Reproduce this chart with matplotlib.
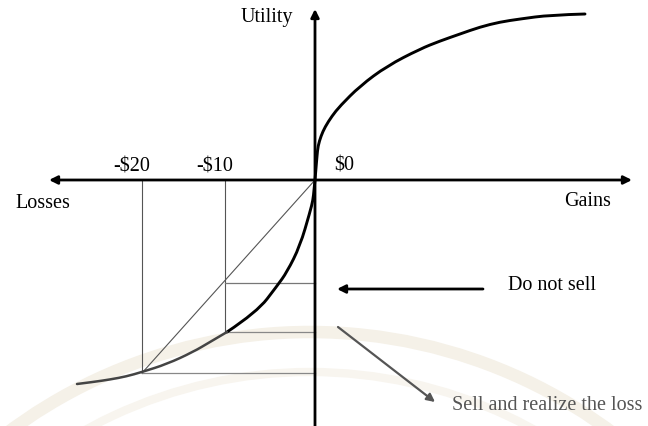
import matplotlib
matplotlib.use("Agg")
import matplotlib.pyplot as plt
from matplotlib.path import Path
from matplotlib.patches import PathPatch, Arc

plt.rcParams['font.family'] = ['Liberation Serif', 'DejaVu Serif']

# Curva de valor (unidades del dibujo, origen en $0)
gain_x = [0, 1, 2, 3, 6, 10, 17, 25, 45, 72, 105, 125, 145, 165, 185, 205, 235, 270]
gain_y = [0, 12, 24, 34, 44, 53, 64, 74, 94, 114, 131, 139, 146, 153, 158, 161, 165, 166]
# tramo de pérdidas hasta -$10 (negro) y más allá (gris)
loss_x = [0, -1, -2, -5, -15, -28, -38, -58, -88]
loss_y = [0, -10, -20, -32, -66, -92, -106, -132, -152]
loss2_x = [-88, -105, -122, -148, -173, -189, -205, -222, -238]
loss2_y = [-152, -162, -172, -184, -192, -196.5, -199.5, -202, -204]

# Posiciones de las pérdidas en el eje
loss_pos = [-173, -90]
loss_labels = ["-$20", "-$10"]
loss_util = [-193, -152]      # utilidad sobre la curva
no_sell_util = -103           # utilidad media (no vender)


def smooth_path(xs, ys):
    # B-spline cuadrática: los puntos leídos hacen de controles
    pts = list(zip(xs, ys))
    if len(pts) == 2:
        return Path(pts)
    verts = [pts[0]]
    codes = [Path.MOVETO]
    for i in range(1, len(pts) - 1):
        nxt = pts[i + 1] if i == len(pts) - 2 else (
            (pts[i][0] + pts[i + 1][0]) / 2, (pts[i][1] + pts[i + 1][1]) / 2)
        verts += [pts[i], nxt]
        codes += [Path.CURVE3, Path.CURVE3]
    return Path(verts, codes)


fig = plt.figure(figsize=(6.48, 4.27), dpi=100)
ax = fig.add_axes([0, 0, 1, 1])
ax.set_xlim(-315, 333)
ax.set_ylim(-246, 181)
ax.axis("off")

fs = 14.5
thin = dict(color="#555555", lw=0.8)

# marca de agua tenue
ax.add_patch(Arc((-5, -657), 1010, 1010, theta1=40, theta2=140,
                 color="#f5f1e8", lw=9, zorder=0))
ax.add_patch(Arc((-5, -657), 930, 930, theta1=40, theta2=140,
                 color="#f8f5ef", lw=6, zorder=0))

# ejes
ax.annotate("", xy=(-266, 0), xytext=(317, 0),
            arrowprops=dict(arrowstyle="<|-|>", color="black", lw=2,
                            mutation_scale=12, shrinkA=0, shrinkB=0))
ax.annotate("", xy=(0, 171), xytext=(0, -246),
            arrowprops=dict(arrowstyle="-|>", color="black", lw=2,
                            mutation_scale=12, shrinkA=0, shrinkB=0))

# líneas de referencia
for xp, yu in zip(loss_pos, loss_util):
    ax.plot([xp, xp], [0, yu], **thin)
    ax.plot([xp, 0], [yu, yu], color="#888888", lw=0.9)
ax.plot([loss_pos[1], 0], [no_sell_util, no_sell_util], color="#777777", lw=0.9)
ax.plot([0, loss_pos[0]], [0, loss_util[0]], **thin)

# curva
for xs, ys, col, w in [(gain_x, gain_y, "black", 2.1),
                       (loss_x, loss_y, "black", 2.1),
                       (loss2_x, loss2_y, "#444444", 1.8)]:
    ax.add_patch(PathPatch(smooth_path(xs, ys), fill=False, ec=col,
                           lw=w, capstyle="round", joinstyle="round", zorder=3))

# textos
for xp, lab in zip(loss_pos, loss_labels):
    ax.text(xp - 10, 14, lab, fontsize=fs, ha="center", va="center")
ax.text(29, 15, "$0", fontsize=fs, ha="center", va="center")
ax.text(-22, 164, "Utility", fontsize=fs, ha="right", va="center")
ax.text(-300, -22, "Losses", fontsize=fs, ha="left", va="center")
ax.text(273, -21, "Gains", fontsize=fs, ha="center", va="center")

# flechas de decisión
ax.annotate("", xy=(22, -109), xytext=(168, -109),
            arrowprops=dict(arrowstyle="-|>", color="black", lw=2,
                            mutation_scale=12, shrinkA=0, shrinkB=0))
ax.text(193, -104, "Do not sell", fontsize=fs, ha="left", va="center")
ax.annotate("", xy=(120, -222), xytext=(23, -147),
            arrowprops=dict(arrowstyle="-|>", color="#555555", lw=1.6,
                            mutation_scale=12, shrinkA=0, shrinkB=0))
ax.text(137, -224, "Sell and realize the loss", fontsize=fs, ha="left",
        va="center", color="#555555")

fig.savefig("out.png", dpi=100)
